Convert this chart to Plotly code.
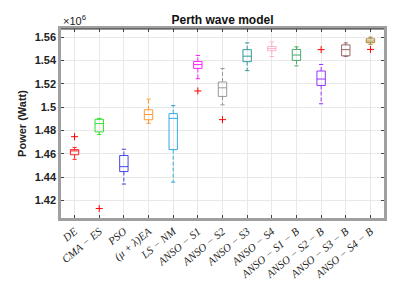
import plotly.graph_objects as go

# Data (Power in units of 1e6 W)
labels = ["DE", "CMA − ES", "PSO", "(μ + λ)EA", "LS − NM", "ANSO − S1", "ANSO − S2",
          "ANSO − S3", "ANSO − S4", "ANSO − S1 − B", "ANSO − S2 − B", "ANSO − S3 − B", "ANSO − S4 − B"]
upper = [1.4655, 1.4904, 1.4639, 1.5069, 1.5014, 1.5443, 1.5332, 1.5551, 1.5559, 1.5517, 1.5366, 1.5551, 1.5600]
q3 = [1.4636, 1.4896, 1.4586, 1.4978, 1.4945, 1.5392, 1.5216, 1.5493, 1.5520, 1.5495, 1.5310, 1.5534, 1.5586]
median = [1.4625, 1.4859, 1.4490, 1.4937, 1.4904, 1.5365, 1.5166, 1.5437, 1.5503, 1.5447, 1.5241, 1.5493, 1.5567]
q1 = [1.4592, 1.4788, 1.4448, 1.4892, 1.4636, 1.5332, 1.5092, 1.5390, 1.5484, 1.5401, 1.5186, 1.5440, 1.5553]
lower = [1.4553, 1.4766, 1.4341, 1.4862, 1.4357, 1.5244, 1.5020, 1.5313, 1.5434, 1.5354, 1.5029, 1.5435, 1.5539]
outlier_idx = [0, 1, 5, 6, 10, 12]
outlier_val = [1.4747, 1.4131, 1.5139, 1.4893, 1.5493, 1.5495]
colors = ["#ff2020", "#33dd33", "#4646e6", "#ff9933", "#33aadd", "#ff22ff", "#999999",
          "#339999", "#ffb0c4", "#44aa66", "#9933ff", "#996666", "#aa8833"]

BOX_W = 0.34
CAP_HALF = BOX_W / 4

fig = go.Figure()
for i, lab in enumerate(labels):
    pos = i + 1
    # box body (no whiskers; whiskers drawn as dashed lines below)
    fig.add_trace(go.Box(
        x=[pos], q1=[q1[i]], median=[median[i]], q3=[q3[i]],
        lowerfence=[q1[i]], upperfence=[q3[i]],
        line=dict(color=colors[i], width=1), fillcolor="rgba(255,255,255,0)",
        width=BOX_W, whiskerwidth=0, boxpoints=False, showlegend=False,
        hoverinfo="skip"))
    # dashed whiskers
    fig.add_trace(go.Scatter(
        x=[pos, pos, None, pos, pos], y=[q3[i], upper[i], None, q1[i], lower[i]],
        mode="lines", line=dict(color=colors[i], width=1, dash="4px,2px"),
        showlegend=False, hoverinfo="skip"))
    # whisker caps
    fig.add_trace(go.Scatter(
        x=[pos - CAP_HALF, pos + CAP_HALF, None, pos - CAP_HALF, pos + CAP_HALF],
        y=[upper[i], upper[i], None, lower[i], lower[i]],
        mode="lines", line=dict(color=colors[i], width=1),
        showlegend=False, hoverinfo="skip"))

fig.add_trace(go.Scatter(
    x=[i + 1 for i in outlier_idx], y=outlier_val, mode="markers",
    marker=dict(symbol="cross-thin", size=5, line=dict(color="#ff0000", width=1)),
    showlegend=False, hoverinfo="skip"))

fig.update_layout(
    width=415, height=285,
    margin=dict(l=53, r=39, t=21, b=69),
    paper_bgcolor="white", plot_bgcolor="white",
    title=dict(text="<b>Perth wave model</b>", x=0.5, xanchor="center", xref="paper",
               y=0.96, yanchor="middle",
               font=dict(family="Liberation Sans", size=12, color="#111")),
    xaxis=dict(range=[0.45, 13.55], tickvals=list(range(1, 14)),
               ticktext=["<i>" + t + "</i>" for t in labels], tickangle=-40,
               tickfont=dict(family="Liberation Serif", size=11, color="#222"),
               showgrid=True, gridcolor="#e8e8e8", gridwidth=1,
               showline=True, linecolor="#a0a0a0", linewidth=2.5, mirror="ticks",
               ticks="inside", ticklen=3, tickcolor="#444", zeroline=False),
    yaxis=dict(range=[1.405, 1.567], dtick=0.02, tick0=1.42,
               tickfont=dict(family="Liberation Sans", size=11, color="#222", weight="bold"),
               showgrid=True, gridcolor="#e8e8e8", gridwidth=1,
               showline=True, linecolor="#a0a0a0", linewidth=2.5, mirror="ticks",
               ticks="inside", ticklen=3, tickcolor="#444", zeroline=False,
               title=dict(text="<b>Power (Watt)</b>", standoff=6,
                          font=dict(family="Liberation Sans", size=11, color="#222"))),
    shapes=[dict(type="line", xref="paper", yref="paper", x0=0, x1=1, y0=1, y1=1,
                 line=dict(color="#333", width=1))],
    annotations=[dict(text="×10<sup>6</sup>", xref="paper", yref="paper", x=0.0, y=1.0,
                      xanchor="left", yanchor="bottom", showarrow=False,
                      font=dict(family="Liberation Sans", size=11, color="#222"))],
)

fig.write_html("out.html")
